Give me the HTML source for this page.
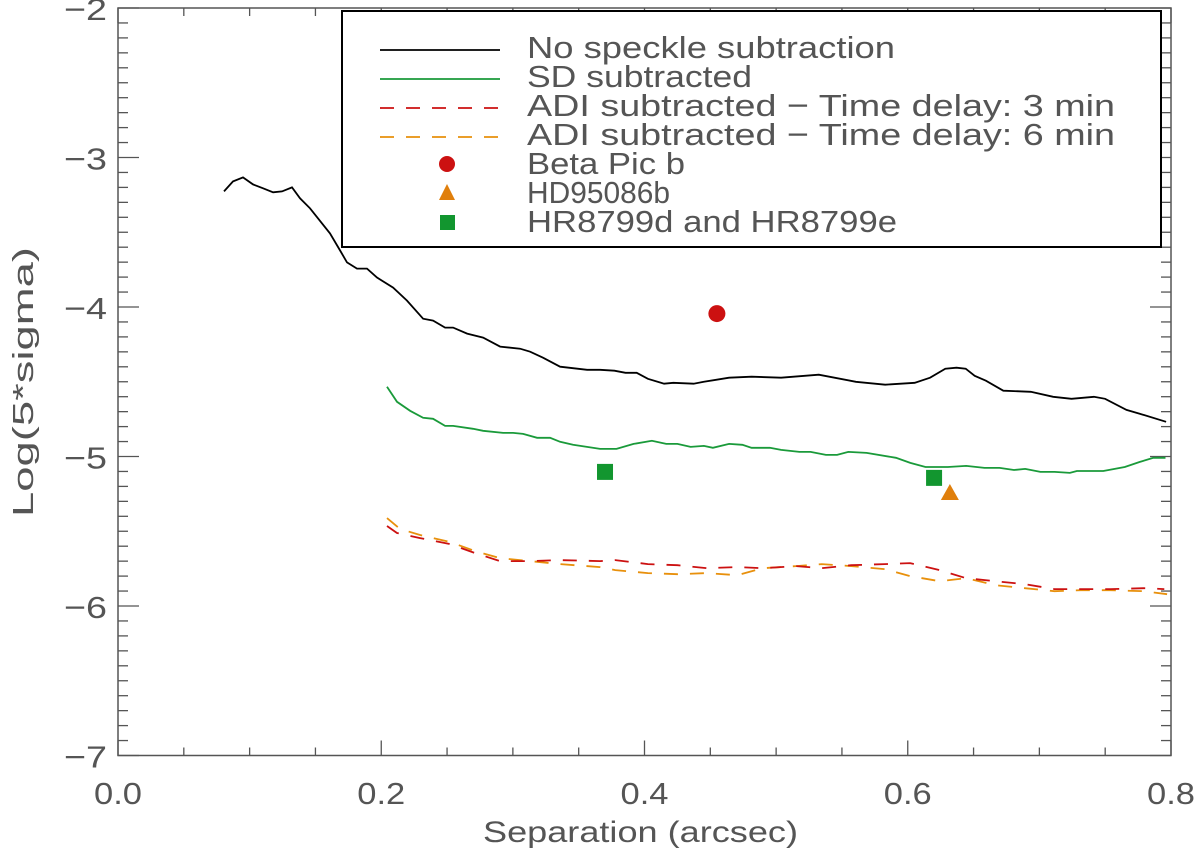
<!DOCTYPE html>
<html><head><meta charset="utf-8"><style>
html,body{margin:0;padding:0;background:#fff;}
svg{display:block;font-family:"Liberation Sans",sans-serif;}
</style></head><body>
<svg id="chart" width="1200" height="857" viewBox="0 0 1200 857" xmlns="http://www.w3.org/2000/svg">
<g id="axes"></g>
<g id="series"></g>
<g id="legend"></g>
</svg>
<script>
const blackX=[0.0805,0.0874,0.0950,0.1026,0.1102,0.1178,0.1246,0.1322,0.1383,0.1459,0.1611,0.1687,0.1740,0.1816,0.1892,0.1968,0.2090,0.2196,0.2318,0.2394,0.2485,0.2546,0.2652,0.2774,0.2903,0.3055,0.3131,0.3229,0.3359,0.3564,0.3663,0.3771,0.3856,0.3941,0.4026,0.4149,0.4219,0.4373,0.4451,0.4643,0.4814,0.5038,0.5324,0.5606,0.5829,0.6053,0.6170,0.6285,0.6370,0.6440,0.6509,0.6594,0.6726,0.6935,0.7105,0.7244,0.7414,0.7499,0.7662,0.7762,0.7963];
const blackY=[-3.227,-3.160,-3.133,-3.180,-3.206,-3.233,-3.227,-3.200,-3.273,-3.340,-3.508,-3.622,-3.702,-3.743,-3.743,-3.803,-3.870,-3.957,-4.078,-4.091,-4.138,-4.138,-4.178,-4.205,-4.265,-4.279,-4.299,-4.339,-4.399,-4.420,-4.420,-4.426,-4.440,-4.440,-4.480,-4.513,-4.507,-4.513,-4.500,-4.473,-4.466,-4.473,-4.453,-4.500,-4.520,-4.507,-4.473,-4.413,-4.406,-4.413,-4.460,-4.493,-4.560,-4.567,-4.601,-4.614,-4.601,-4.614,-4.688,-4.714,-4.768];
const greenX=[0.2044,0.2120,0.2219,0.2318,0.2394,0.2485,0.2546,0.2698,0.2774,0.2926,0.3002,0.3078,0.3184,0.3283,0.3359,0.3457,0.3663,0.3787,0.3917,0.4056,0.4165,0.4250,0.4350,0.4451,0.4520,0.4643,0.4744,0.4814,0.4953,0.5038,0.5177,0.5262,0.5378,0.5463,0.5548,0.5687,0.5911,0.6019,0.6135,0.6305,0.6444,0.6583,0.6698,0.6807,0.6892,0.7008,0.7116,0.7232,0.7285,0.7486,0.7649,0.7764,0.7866,0.7958];
const greenY=[-4.534,-4.634,-4.694,-4.741,-4.748,-4.795,-4.795,-4.815,-4.828,-4.842,-4.842,-4.849,-4.875,-4.875,-4.902,-4.922,-4.949,-4.949,-4.916,-4.895,-4.916,-4.916,-4.936,-4.929,-4.942,-4.916,-4.922,-4.942,-4.942,-4.956,-4.969,-4.969,-4.989,-4.989,-4.969,-4.976,-5.009,-5.043,-5.070,-5.070,-5.063,-5.076,-5.076,-5.090,-5.083,-5.103,-5.103,-5.110,-5.097,-5.097,-5.070,-5.036,-5.009,-5.009];
const redX=[0.2044,0.2120,0.2295,0.2523,0.2713,0.2903,0.3131,0.3359,0.3663,0.3778,0.4026,0.4250,0.4474,0.4705,0.4899,0.5153,0.5347,0.5570,0.5825,0.6018,0.6242,0.6443,0.6666,0.6890,0.7114,0.7315,0.7539,0.7795,0.7949];
const redY=[-5.465,-5.512,-5.546,-5.586,-5.646,-5.700,-5.700,-5.693,-5.700,-5.693,-5.720,-5.727,-5.747,-5.740,-5.747,-5.733,-5.747,-5.727,-5.720,-5.713,-5.760,-5.814,-5.834,-5.854,-5.887,-5.887,-5.887,-5.881,-5.887];
const orangeX=[0.2044,0.2143,0.2295,0.2523,0.2713,0.2903,0.3131,0.3359,0.3663,0.3778,0.4026,0.4250,0.4474,0.4705,0.4899,0.5153,0.5347,0.5570,0.5825,0.6018,0.6242,0.6443,0.6666,0.6890,0.7114,0.7315,0.7539,0.7795,0.7970];
const orangeY=[-5.412,-5.485,-5.525,-5.572,-5.633,-5.680,-5.700,-5.720,-5.740,-5.760,-5.780,-5.787,-5.780,-5.794,-5.747,-5.733,-5.720,-5.733,-5.753,-5.800,-5.834,-5.814,-5.861,-5.881,-5.901,-5.894,-5.894,-5.901,-5.921];
const betaPic=[0.455,-4.044];
const hd95086=[0.632,-5.244];
const hr8799X=[0.370,0.620];
const hr8799Y=[-5.103,-5.143];
const xTickLabels=["0.0","0.2","0.4","0.6","0.8"];
const xTickVals=[0,0.2,0.4,0.6,0.8];
const yTickVals=[-2,-3,-4,-5,-6,-7];
const yTickLabels=["\u22122","\u22123","\u22124","\u22125","\u22126","\u22127"];

const L=118,R=1171,T=8,B=755.5;
const sx=v=>L+(v-0)/0.8*(R-L);
const sy=v=>T+(-2-v)*149.5;
const NS="http://www.w3.org/2000/svg";
function mk(tag,attrs,parent){const e=document.createElementNS(NS,tag);for(const k in attrs)e.setAttribute(k,attrs[k]);parent.appendChild(e);return e;}
const axes=document.getElementById('axes');
const series=document.getElementById('series');
const legend=document.getElementById('legend');
const ax="#555";
const tc="#555";
let frame=mk('rect',{x:L,y:T,width:R-L,height:B-T,fill:'none',stroke:ax,'stroke-width':1.5},axes);


for(let i=0;i<=16;i++){const v=i*0.05;const x=sx(v);const major=(i%4===0);const len=major?15:8;
 let t1=mk('line',{x1:x,y1:B,x2:x,y2:B-len,stroke:ax,'stroke-width':1.3},axes);
 
 
 let t2=mk('line',{x1:x,y1:T,x2:x,y2:T+len,stroke:ax,'stroke-width':1.3},axes);
 
 }
xTickVals.forEach((v,i)=>{let t=mk('text',{x:sx(v)-24,y:804,'font-size':31,fill:tc,textLength:48,lengthAdjust:'spacingAndGlyphs'},axes);t.textContent=xTickLabels[i];
 
 });
for(let i=0;i<=51;i++){const v=-2-i*0.1;const y=sy(v);if(y>B+0.5)break;const major=(i%10===0);const len=major?21:10;
 let t1=mk('line',{x1:L,y1:y,x2:L+len,y2:y,stroke:ax,'stroke-width':1.3},axes);
 
 
 let t2=mk('line',{x1:R,y1:y,x2:R-len,y2:y,stroke:ax,'stroke-width':1.3},axes);
 
 }
yTickVals.forEach((v,i)=>{let t=mk('text',{x:64,y:sy(v)+12,'font-size':31,fill:tc,textLength:43,lengthAdjust:'spacingAndGlyphs'},axes);t.textContent=yTickLabels[i];
 
 });
let xl=mk('text',{x:483,y:842,'font-size':30,fill:tc,textLength:315,lengthAdjust:'spacingAndGlyphs'},axes);xl.textContent="Separation (arcsec)";


let yl=mk('text',{x:-135,y:0,'font-size':29,fill:tc,textLength:270,lengthAdjust:'spacingAndGlyphs',transform:'translate(33,382) rotate(-90)'},axes);yl.textContent="Log(5*sigma)";


function line(xs,ys,color,dash,name){const d=xs.map((x,i)=>(i?'L':'M')+sx(x).toFixed(1)+' '+sy(ys[i]).toFixed(1)).join(' ');
 const a={d:d,fill:'none',stroke:color,'stroke-width':1.8};if(dash)a['stroke-dasharray']=dash;
 let p=mk('path',a,series);}
line(blackX,blackY,'#000',null,'no-speckle-line');
line(greenX,greenY,'#1a9a3a',null,'sd-subtracted-line');
line(orangeX,orangeY,'#e8900c','14 12','adi-6min-line');
line(redX,redY,'#cc1111','14 12','adi-3min-line');
let c=mk('circle',{cx:sx(betaPic[0]),cy:sy(betaPic[1]),r:8.5,fill:'#cc1111'},series);


{const x=sx(hd95086[0]),y=sy(hd95086[1]);let tr=mk('polygon',{points:`${x},${y-9} ${x-9},${y+7} ${x+9},${y+7}`,fill:'#e07f0c'},series);

}
hr8799X.forEach((v,i)=>{let s=mk('rect',{x:sx(v)-8,y:sy(hr8799Y[i])-8,width:16,height:16,fill:'#12962f'},series);

});
let lb=mk('rect',{x:342,y:11,width:819,height:236,fill:'#fff',stroke:'#000','stroke-width':2},legend);


const entries=[["No speckle subtraction",368,'line','#000',null],["SD subtracted",225,'line','#1a9a3a',null],["ADI subtracted \u2212 Time delay: 3 min",588,'line','#cc1111','14 12'],["ADI subtracted \u2212 Time delay: 6 min",588,'line','#e8900c','14 12'],["Beta Pic b",158,'circle','#cc1111'],["HD95086b",143,'tri','#e07f0c'],["HR8799d and HR8799e",370,'sq','#12962f']];
entries.forEach((e,i)=>{const y=47+i*29;
 let g=mk('g',{},legend);
 if(e[2]==='line'){const a={x1:380,y1:y+3,x2:500,y2:y+3,stroke:e[3],'stroke-width':1.8};if(e[4])a['stroke-dasharray']=e[4];mk('line',a,g);}
 else if(e[2]==='circle'){mk('circle',{cx:447,cy:y+1,r:8,fill:e[3]},g);}
 else if(e[2]==='tri'){mk('polygon',{points:`447,${y-8} 439,${y+8} 455,${y+8}`,fill:e[3]},g);}
 else {mk('rect',{x:440,y:y-6,width:15,height:15,fill:e[3]},g);}
 let t=mk('text',{x:527,y:y+11,'font-size':31,fill:tc,textLength:e[1],lengthAdjust:'spacingAndGlyphs'},g);t.textContent=e[0];
});
</script>
</body></html>
